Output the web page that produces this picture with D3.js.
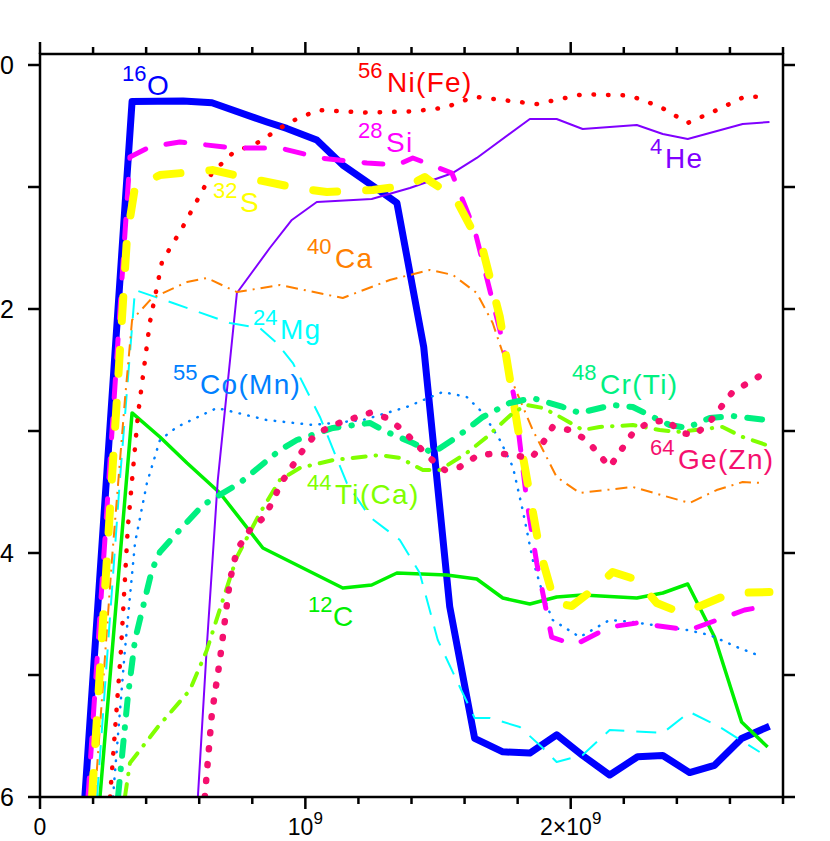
<!DOCTYPE html>
<html><head><meta charset="utf-8">
<script src="https://cdn.jsdelivr.net/npm/d3@7/dist/d3.min.js"></script>
<style>body{margin:0;background:#fff}svg{display:block}</style>
</head><body><svg id="c" width="830" height="841"></svg>
<script>
// time in units of 10^9, value = -log10(mass fraction) as shown on the axis
const xMajor = [0, 1, 2];
const xTickLabels = [["0", ""], ["10", "9"], ["2×10", "9"]];
const yTicks = [0, 2, 4, 6];
const yTickLabels = ["0", "2", "4", "6"];

const O16 = [[0.169,6.0],[0.347,0.30],[0.539,0.295],[0.648,0.31],[0.855,0.467],[0.930,0.52],[1.043,0.615],[1.141,0.82],[1.273,1.02],[1.345,1.13],[1.446,2.31],[1.544,4.44],[1.638,5.52],[1.744,5.63],[1.846,5.64],[1.947,5.49],[2.045,5.66],[2.147,5.82],[2.252,5.67],[2.347,5.66],[2.448,5.80],[2.542,5.74],[2.644,5.52],[2.749,5.42]];
const Ni56 = [[0.264,6.0],[0.305,4.80],[0.331,3.79],[0.369,2.87],[0.414,2.11],[0.460,1.61],[0.535,1.34],[0.648,0.885],[0.727,0.72],[0.817,0.64],[0.942,0.467],[1.047,0.37],[1.224,0.39],[1.405,0.38],[1.525,0.35],[1.638,0.26],[1.872,0.32],[2.045,0.24],[2.222,0.25],[2.335,0.34],[2.441,0.475],[2.550,0.37],[2.655,0.26],[2.749,0.26]];
const Si28 = [[0.181,6.0],[0.339,0.754],[0.414,0.672],[0.527,0.631],[0.727,0.680],[0.904,0.680],[1.055,0.762],[1.232,0.803],[1.345,0.820],[1.405,0.762],[1.552,0.885],[1.638,1.352],[1.733,2.172],[1.789,2.746],[1.834,3.566],[1.872,4.082],[1.928,4.689],[2.015,4.754],[2.147,4.607],[2.249,4.574],[2.448,4.631],[2.655,4.467],[2.742,4.434]];
const S32 = [[0.196,6.0],[0.328,1.410],[0.358,1.0],[0.452,0.902],[0.652,0.861],[0.765,0.918],[0.968,1.008],[1.081,1.041],[1.254,1.025],[1.394,0.984],[1.450,0.918],[1.480,0.967],[1.563,1.082],[1.669,1.516],[1.733,2.066],[1.800,2.967],[1.883,3.975],[1.940,4.410],[2.004,4.434],[2.083,4.303],[2.158,4.156],[2.252,4.221],[2.324,4.410],[2.418,4.492],[2.497,4.426],[2.606,4.328],[2.749,4.320]];
const He4 = [[0.595,6.0],[0.629,4.754],[0.670,3.402],[0.742,1.869],[0.866,1.500],[0.949,1.270],[1.043,1.123],[1.250,1.098],[1.394,1.008],[1.556,0.885],[1.646,0.762],[1.846,0.443],[1.947,0.443],[2.045,0.525],[2.249,0.492],[2.347,0.566],[2.441,0.607],[2.648,0.484],[2.749,0.467]];
const Ca40 = [[0.207,6.0],[0.271,4.057],[0.320,2.746],[0.347,2.090],[0.422,1.910],[0.554,1.779],[0.629,1.746],[0.742,1.861],[0.904,1.803],[1.141,1.910],[1.318,1.762],[1.469,1.680],[1.556,1.721],[1.646,1.869],[1.706,2.115],[1.782,2.607],[1.857,2.992],[1.947,3.377],[2.034,3.508],[2.234,3.459],[2.448,3.590],[2.550,3.484],[2.648,3.418],[2.723,3.426]];
const Mg24 = [[0.215,6.0],[0.301,3.402],[0.358,1.844],[0.501,1.951],[0.716,2.115],[0.829,2.156],[0.893,2.279],[0.953,2.443],[1.055,2.885],[1.156,3.426],[1.243,3.705],[1.356,3.893],[1.431,4.164],[1.499,4.713],[1.582,5.098],[1.638,5.352],[1.695,5.352],[1.808,5.426],[1.891,5.590],[1.947,5.713],[2.045,5.656],[2.147,5.451],[2.347,5.475],[2.448,5.303],[2.561,5.426],[2.712,5.631]];
const Co55 = [[0.275,6.0],[0.320,4.795],[0.358,3.918],[0.403,3.426],[0.452,3.074],[0.516,2.967],[0.667,2.811],[0.855,2.910],[1.028,2.951],[1.217,2.910],[1.382,2.803],[1.518,2.680],[1.608,2.721],[1.669,2.852],[1.733,3.074],[1.782,3.295],[1.819,3.648],[1.857,4.057],[1.902,4.385],[1.932,4.549],[2.034,4.689],[2.147,4.549],[2.234,4.566],[2.437,4.631],[2.524,4.672],[2.625,4.770],[2.723,4.852]];
const C12 = [[0.226,6.0],[0.347,2.852],[0.452,3.049],[0.554,3.262],[0.678,3.508],[0.840,3.959],[1.141,4.287],[1.250,4.262],[1.345,4.164],[1.533,4.180],[1.646,4.213],[1.744,4.369],[1.846,4.418],[1.947,4.361],[2.045,4.344],[2.249,4.369],[2.347,4.328],[2.441,4.254],[2.542,4.689],[2.644,5.385],[2.742,5.590]];
const Cr48 = [[0.294,6.0],[0.331,5.180],[0.358,4.713],[0.422,4.139],[0.452,3.992],[0.516,3.836],[0.614,3.607],[0.753,3.426],[0.904,3.156],[0.968,3.074],[1.104,2.975],[1.243,2.934],[1.307,3.008],[1.405,3.098],[1.480,3.180],[1.571,3.049],[1.669,2.885],[1.770,2.770],[1.857,2.730],[1.970,2.803],[2.034,2.852],[2.158,2.787],[2.234,2.803],[2.309,2.885],[2.373,2.951],[2.437,2.975],[2.524,2.893],[2.610,2.877],[2.738,2.910]];
const Ti44 = [[0.320,6.0],[0.339,5.721],[0.444,5.426],[0.565,5.123],[0.629,4.795],[0.689,4.385],[0.742,4.033],[0.829,3.672],[0.904,3.402],[0.979,3.303],[1.104,3.238],[1.281,3.197],[1.356,3.221],[1.443,3.320],[1.507,3.320],[1.608,3.180],[1.684,3.049],[1.782,2.852],[1.834,2.787],[1.895,2.811],[1.947,2.869],[2.045,2.992],[2.109,2.967],[2.234,2.951],[2.335,2.992],[2.399,3.008],[2.572,2.967],[2.648,3.049],[2.738,3.115]];
const Ge64 = [[0.621,6.0],[0.648,5.311],[0.678,4.877],[0.716,4.221],[0.742,3.975],[0.798,3.787],[0.847,3.705],[0.911,3.418],[0.991,3.156],[1.036,3.033],[1.104,2.951],[1.243,2.852],[1.307,2.893],[1.367,2.992],[1.469,3.221],[1.525,3.320],[1.582,3.295],[1.646,3.205],[1.721,3.180],[1.853,3.221],[1.895,3.098],[1.932,2.967],[1.996,2.992],[2.060,3.074],[2.147,3.295],[2.234,3.016],[2.290,2.934],[2.362,2.910],[2.418,3.016],[2.467,3.033],[2.524,2.926],[2.610,2.680],[2.738,2.516]];

const labelSup = ["16","56","28","4","32","40","24","55","48","64","44","12"];
const labelMain = ["O","Ni(Fe)","Si","He","S","Ca","Mg","Co(Mn)","Cr(Ti)","Ge(Zn)","Ti(Ca)","C"];
const labelSeries = ["O16","Ni56","Si28","He4","S32","Ca40","Mg24","Co55","Cr48","Ge64","Ti44","C12"];

const dataByName = {O16, Ni56, Si28, S32, He4, Ca40, Mg24, Co55, C12, Cr48, Ti44, Ge64};

// styles (separate from data)
const styles = {
  O16:  {color:"#0000ff", w:7,   dash:null},
  C12:  {color:"#00f000", w:3.5, dash:null},
  He4:  {color:"#8000ff", w:2,   dash:null},
  Mg24: {color:"#00ffff", w:2,   dash:"20 12"},
  Ca40: {color:"#ff8000", w:2,   dash:"12 6 2 6"},
  Co55: {color:"#0080ff", w:2.5, dash:"0.5 8.5", cap:"round"},
  Ni56: {color:"#ff0000", w:4.5, dash:"0.5 14", cap:"round"},
  Si28: {color:"#ff00ff", w:5,   dash:"19 21", cap:"round"},
  S32:  {color:"#ffff00", w:8,   dash:"24 29", cap:"round"},
  Ti44: {color:"#80ff00", w:4,   dash:"13 10 0.5 10", cap:"round"},
  Cr48: {color:"#00f080", w:6,   dash:"15 13 0.5 13", cap:"round"},
  Ge64: {color:"#f5106e", w:6.5, dash:"1 15", cap:"round"}
};
const drawOrder = ["O16","C12","He4","Mg24","Ca40","Co55","Ni56","Si28","S32","Ti44","Cr48","Ge64"];
const labelPos = {
  O16:[122,147,95], Ni56:[358,387,92], Si28:[358,386,152], He4:[650,665,168],
  S32:[213,240,212], Ca40:[307,335,268], Mg24:[253,280,339], Co55:[173,200,394],
  Cr48:[572,600,394], Ge64:[650,678,469], Ti44:[307,335,504], C12:[308,333,626]
};

const svg = d3.select("#c");
const x = d3.scaleLinear().domain([0, 2.8]).range([40, 783]);
const y = d3.scaleLinear().domain([0, 6]).range([65, 797]);
const pTop = 54, pBottom = 797, pLeft = 40, pRight = 783;
const font = "'Liberation Sans', Arial, Helvetica, sans-serif";

svg.append("defs").append("clipPath").attr("id","clip")
  .append("rect").attr("x",pLeft).attr("y",pTop).attr("width",pRight-pLeft).attr("height",pBottom-pTop);

const line = d3.line().x(d => x(d[0])).y(d => y(d[1]));
const g = svg.append("g").attr("clip-path","url(#clip)");
drawOrder.forEach(k => {
  const s = styles[k];
  g.append("path").datum(dataByName[k]).attr("d", line)
    .attr("fill","none").attr("stroke", s.color).attr("stroke-width", s.w)
    .attr("stroke-linejoin","round")
    .attr("stroke-linecap", s.cap || "butt")
    .attr("stroke-dasharray", s.dash);
});

// labels
labelSeries.forEach((k, i) => {
  const p = labelPos[k], c = styles[k].color;
  const t = svg.append("text").attr("fill", c).attr("font-family", font);
  t.append("tspan").attr("x", p[0]).attr("y", p[2]-14).attr("font-size", 22).text(labelSup[i]);
  t.append("tspan").attr("x", p[1]).attr("y", p[2]).attr("font-size", 28)
    .attr("letter-spacing", "1.3px").text(labelMain[i]);
});

// frame and ticks
const ax = svg.append("g").attr("stroke","#000").attr("stroke-width",2.5).attr("fill","none");
ax.append("rect").attr("x",pLeft).attr("y",pTop).attr("width",pRight-pLeft).attr("height",pBottom-pTop);
const xMinor = d3.range(0, 2.81, 0.2);
xMinor.forEach(v => {
  const isMaj = xMajor.some(m => Math.abs(m - v) < 1e-6);
  const L = isMaj ? 12 : 7;
  ax.append("line").attr("x1",x(v)).attr("x2",x(v)).attr("y1",pTop).attr("y2",pTop-L);
  ax.append("line").attr("x1",x(v)).attr("x2",x(v)).attr("y1",pBottom).attr("y2",pBottom+L);
});
d3.range(0, 6.01, 1).forEach(v => {
  ax.append("line").attr("x1",pLeft).attr("x2",pLeft-12).attr("y1",y(v)).attr("y2",y(v));
  ax.append("line").attr("x1",pRight).attr("x2",pRight+12).attr("y1",y(v)).attr("y2",y(v));
});

// y tick labels
yTicks.forEach((v, i) => {
  svg.append("text").attr("x", 14).attr("y", y(v)+9).attr("text-anchor","end")
    .attr("font-family", font).attr("font-size", 25).attr("fill","#000").text(yTickLabels[i]);
});
// x tick labels
xMajor.forEach((v, i) => {
  const t = svg.append("text").attr("x", x(v)).attr("y", 835).attr("text-anchor","middle")
    .attr("font-family", font).attr("font-size", 23).attr("fill","#000");
  t.append("tspan").text(xTickLabels[i][0]);
  if (xTickLabels[i][1]) t.append("tspan").attr("dy",-11).attr("font-size",17).text(xTickLabels[i][1]);
});
</script></body></html>
